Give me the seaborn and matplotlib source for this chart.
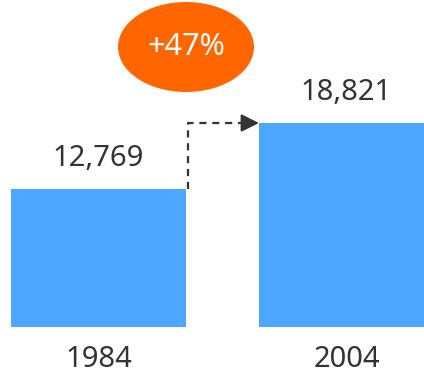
import matplotlib
matplotlib.use("Agg")
import matplotlib.pyplot as plt
import seaborn as sns
import pandas as pd
from matplotlib.patches import Ellipse

years = ["1984", "2004"]
values = [12769, 18821]
value_labels = ["12,769", "18,821"]
change_label = "+47%"

sns.set_theme(style="white")
plt.rcParams["font.family"] = ["Noto Sans", "DejaVu Sans"]

W, H = 424, 373
fig = plt.figure(figsize=(W / 100, H / 100), dpi=100)
base_px = 46
ax = fig.add_axes([0, base_px / H, 1, (H - base_px) / H])

df = pd.DataFrame({"year": years, "value": values})
bw = 0.706
sns.barplot(data=df, x="year", y="value", color="#4da6ff", saturation=1,
            width=bw, ax=ax, edgecolor="none")

unit = 248.0
ax.set_xlim(-98.5 / unit, (W - 98.5) / unit)
ax.set_ylim(0, values[1] * (H - base_px) / 204.0)

for s in ax.spines.values():
    s.set_visible(False)
ax.set_yticks([])
ax.set_xlabel("")
ax.set_ylabel("")
ax.tick_params(axis="x", length=0, pad=13, labelsize=21, labelcolor="#333333")

for i, (v, lab) in enumerate(zip(values, value_labels)):
    ax.annotate(lab, (i, v), xytext=(0, 16.5), textcoords="offset points",
                ha="center", va="baseline", fontsize=21, color="#333333")

# dashed connector arrow
x0 = bw / 2 + 0.008
x1 = 1 - bw / 2
ax.plot([x0, x0, x1 - 0.05], [values[0], values[1], values[1]],
        ls=(0, (3.2, 2.6)), color="#333333", lw=1.6, clip_on=False)
ax.annotate("", xy=(x1, values[1]), xytext=(x1 - 0.06, values[1]),
            arrowprops=dict(arrowstyle="-|>,head_length=0.9,head_width=0.45",
                            color="#333333", lw=1.5, shrinkA=0, shrinkB=0))

# orange ellipse with change label
yscale = values[1] / 204.0
ecx = (186 - 98.5) / unit
ecy = (H - 47 - base_px) * yscale
ell = Ellipse((ecx, ecy), 136 / unit, 90 * yscale, facecolor="#ff6600",
              edgecolor="none", clip_on=False)
ax.add_patch(ell)
ax.text(ecx, ecy, change_label, ha="center", va="center", fontsize=22,
        color="white")

fig.savefig("out.png", dpi=100)
